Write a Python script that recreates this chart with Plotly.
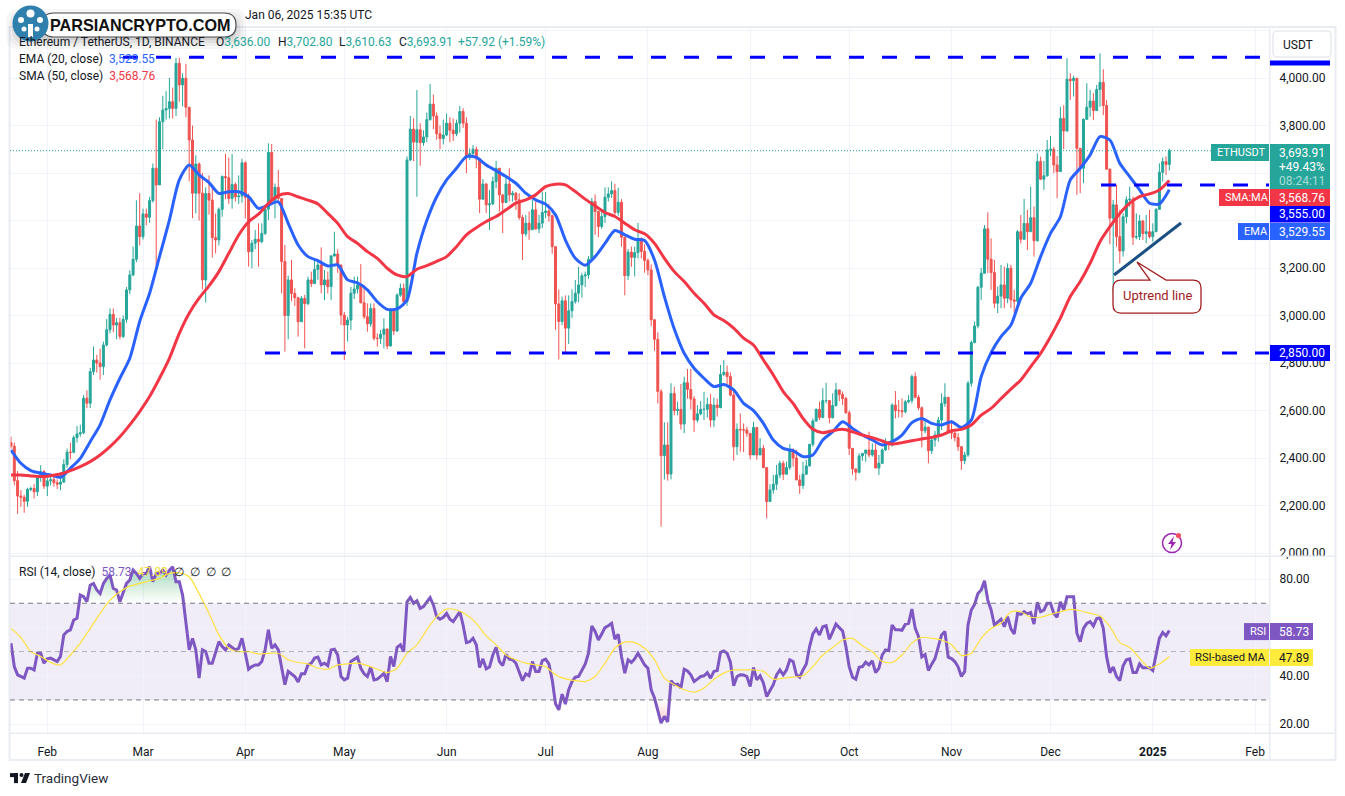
import pandas as pd
import plotly.graph_objects as go

W = 1345
H = 796
Y_FIX = 1.0052  # the photographed page comes out slightly squashed in height

first_open = 2465
closes = [
    2450,2305,2240,2235,2218,2268,2272,2258,2318,2343,2282,
    2304,2309,2296,2290,2299,2373,2425,2424,2486,2502,2507,2652,2631,2764,2813,2800,2785,2876,2940,3005,2960,2970,2912,2984,3108,3171,3237,3377,3332,
    3428,3414,3484,3620,3550,3816,3865,3872,3900,3872,4062,3971,3999,3877,3739,3515,3638,3515,3150,3514,3486,3328,3318,3447,3585,3580,3493,3552,3500,3503,3643,
    3498,3269,3304,3321,3311,3346,3448,3687,3486,3540,3493,3227,3000,3150,3093,3075,2974,3072,3050,3150,3135,3194,3213,3129,3150,3122,3251,3259,3213,3002,
    2960,2981,3094,3112,3129,3054,2995,2965,3030,2904,2904,2921,2943,2872,3023,2935,3086,3115,3058,3655,3785,3730,3782,3728,3752,3825,3890,3840,3765,3745,3760,
    3810,3780,3765,3810,3859,3810,3667,3682,3700,3660,3490,3554,3466,3470,3564,3620,3508,3476,3554,3508,3515,3487,3413,3344,3389,3361,3445,3365,3389,3434,
    3440,3420,3290,3049,2975,3062,2947,3020,3059,3094,3129,3167,3171,3237,3480,3438,3375,3417,3498,3512,3526,3434,3477,3330,3168,3267,3245,3265,3318,3270,3232,
    3192,2982,2900,2680,2410,2455,2333,2672,2600,2605,2543,2717,2689,2649,2560,2586,2605,2605,2626,2560,2623,2612,2752,2761,2743,2665,2448,2521,2519,2518,2504,
    2413,2529,2413,2441,2360,2217,2266,2290,2329,2378,2332,2360,2434,2400,2308,2284,2332,2367,2458,2556,2605,2571,2642,2642,2570,2621,2687,2668,2651,2591,
    2441,2354,2340,2409,2420,2434,2413,2434,2358,2378,2434,2469,2455,2623,2600,2600,2595,2637,2642,2743,2656,2612,2515,2530,2431,2476,2497,2560,2630,2656,2511,
    2505,2486,2448,2389,2413,2715,2886,2956,3119,3178,3365,3237,3181,3052,3082,3129,3073,3199,3066,3060,3353,3321,3388,3353,3412,3315,3648,3574,3588,3697,
    3700,3634,3606,3830,3777,3995,3989,3999,3704,3620,3826,3877,3903,3863,3952,3982,3884,3616,3410,3466,3332,3272,3416,3487,3490,3330,3332,3398,3345,3353,3332,
    3353,3447,3603,3648,3636,3693.91,
]
highs = [
    2490,2465,2345,2265,2245,2275,2280,2290,2325,2370,2350,
    2320,2320,2325,2310,2340,2395,2440,2465,2495,2535,2540,2665,2685,2780,2870,2835,2860,2890,2985,3030,3030,2990,2990,3000,3120,3190,3290,3485,3515,
    3450,3450,3500,3640,3825,3835,3925,3945,4000,3960,4085,4085,4020,4060,3850,3800,3675,3645,3600,3540,3590,3540,3430,3455,3590,3680,3665,3680,3560,3590,3660,
    3650,3513,3318,3360,3388,3388,3465,3725,3722,3556,3613,3493,3297,3168,3234,3115,3079,3082,3087,3164,3185,3234,3227,3287,3192,3185,3255,3353,3279,3213,
    3015,2995,3121,3164,3164,3217,3129,3051,3051,3051,2925,2939,2988,2946,3030,3030,3094,3135,3135,3670,3840,3830,3949,3810,3780,3855,3975,3930,3855,3800,3825,
    3850,3835,3830,3825,3882,3873,3835,3704,3718,3711,3662,3575,3557,3529,3585,3651,3599,3508,3585,3620,3525,3520,3515,3424,3424,3438,3487,3480,3424,3522,
    3520,3470,3425,3290,3110,3080,3085,3085,3110,3150,3205,3180,3185,3250,3495,3510,3440,3435,3540,3540,3565,3555,3538,3490,3330,3280,3290,3290,3390,3330,3300,
    3240,3215,2985,2929,2690,2550,2550,2715,2700,2637,2712,2743,2775,2775,2660,2623,2640,2679,2655,2670,2655,2650,2792,2813,2790,2760,2690,2546,2588,2546,2532,
    2504,2553,2530,2483,2455,2360,2290,2329,2371,2389,2389,2385,2459,2441,2434,2329,2385,2392,2455,2567,2609,2637,2694,2717,2637,2673,2717,2687,2680,2658,
    2600,2441,2357,2420,2420,2434,2511,2462,2462,2413,2441,2483,2469,2630,2682,2644,2651,2644,2665,2752,2761,2665,2617,2567,2532,2490,2515,2574,2672,2715,2651,
    2560,2515,2504,2448,2427,2725,2895,2975,3125,3200,3381,3435,3325,3234,3122,3213,3206,3220,3213,3108,3360,3423,3491,3445,3543,3459,3683,3669,3651,3739,
    3756,3711,3672,3879,3885,4083,4020,4010,3999,3704,3830,3978,3950,3936,3971,4104,4037,3907,3620,3487,3550,3445,3430,3501,3543,3501,3430,3423,3402,3423,3445,
    3388,3452,3641,3666,3670,3702.80,
]
lows = [
    2440,2285,2165,2195,2170,2195,2260,2230,2240,2300,2270,
    2240,2285,2280,2270,2265,2295,2360,2395,2420,2465,2490,2500,2610,2610,2750,2760,2730,2750,2870,2925,2930,2900,2900,2905,2970,3090,3165,3225,3295,
    3320,3380,3390,3475,3192,3550,3700,3825,3830,3830,3840,3900,3880,3835,3565,3410,3430,3400,3110,3055,3425,3244,3262,3295,3416,3490,3470,3450,3480,3470,3475,
    3409,3206,3199,3279,3206,3304,3339,3402,3472,3409,3470,3093,2848,2900,3060,3040,2911,2974,2862,3044,3120,3133,3150,3093,3065,3093,3065,3248,3180,2960,
    2813,2890,2939,3070,3093,3051,2985,2932,2953,2895,2869,2880,2862,2858,2869,2918,2932,3079,3040,3041,3650,3650,3500,3630,3715,3730,3820,3785,3740,3700,3720,
    3755,3730,3735,3755,3770,3790,3599,3655,3662,3620,3431,3487,3431,3360,3466,3536,3438,3347,3473,3480,3480,3445,3403,3234,3333,3319,3361,3361,3347,3368,
    3410,3395,3260,2940,2815,2960,2840,2880,2990,3050,3055,3075,3120,3155,3230,3340,3330,3365,3390,3480,3495,3420,3420,3290,3085,3150,3205,3165,3240,3240,3180,
    3170,2955,2852,2630,2111,2310,2305,2310,2580,2580,2520,2505,2650,2605,2510,2550,2580,2560,2570,2530,2530,2575,2610,2745,2700,2660,2389,2413,2427,2425,2490,
    2395,2413,2393,2413,2357,2146,2217,2250,2266,2315,2308,2350,2350,2364,2308,2249,2270,2329,2364,2448,2553,2560,2567,2630,2546,2567,2616,2640,2623,2586,
    2413,2330,2305,2336,2389,2385,2403,2406,2357,2329,2375,2430,2434,2448,2567,2571,2571,2588,2630,2630,2651,2602,2445,2504,2378,2417,2448,2469,2518,2616,2504,
    2480,2470,2430,2350,2375,2405,2700,2883,2946,3066,3178,3178,3108,3031,3010,3031,3031,3052,3031,3012,3050,3304,3318,3276,3353,3248,3311,3571,3529,3585,
    3672,3599,3494,3606,3700,3774,3908,3922,3508,3515,3557,3823,3837,3823,3865,3879,3844,3620,3300,3101,3290,3220,3248,3388,3458,3297,3321,3318,3318,3304,3325,
    3311,3353,3447,3564,3592,3610.63,
]

# moving averages, read every third day
ema_values = [
    2434,2378,2347,2336,2329,2319,2357,2399,2469,2540,2645,2736,2820,2975,3094,3248,3402,3571,3634,3592,
    3560,3514,3521,3521,3500,3451,3465,3479,3388,3297,3248,3231,3209,3213,3150,3138,3108,3058,3026,3028,
    3065,3262,3400,3500,3571,3620,3669,3666,3634,3610,3585,3557,3515,3487,3469,3424,3318,3241,3212,3248,
    3304,3358,3340,3321,3316,3234,3080,2943,2841,2778,2736,2701,2710,2687,2630,2600,2546,2476,2441,2431,
    2406,2413,2476,2511,2553,2525,2497,2476,2455,2469,2497,2549,2567,2546,2539,2553,2529,2560,2743,2844,
    2911,2960,3073,3136,3248,3346,3416,3571,3620,3676,3753,3739,3641,3585,3529,3473,3470,3529.55,
]
sma_values = [
    2329,2329,2325,2322,2326,2333,2347,2364,2385,2413,2448,2490,2540,2596,2659,2736,2820,2925,3010,3073,
    3125,3185,3262,3339,3395,3427,3472,3505,3514,3500,3486,3470,3430,3388,3332,3304,3269,3241,3199,3171,
    3164,3195,3210,3228,3248,3290,3340,3370,3396,3417,3445,3473,3487,3508,3543,3553,3550,3522,3490,3462,
    3434,3417,3389,3361,3344,3304,3241,3185,3143,3094,3052,3003,2979,2947,2905,2876,2813,2750,2680,2630,
    2567,2521,2507,2515,2521,2511,2497,2486,2472,2459,2465,2473,2480,2487,2497,2515,2521,2539,2581,2609,
    2650,2690,2729,2785,2841,2911,2989,3080,3143,3220,3311,3374,3430,3473,3501,3512,3529,3568.76,
]

rsi_values = [
    53.5,43.8,40.4,39.7,39,43.1,43.1,42.4,49.3,49.3,
    45.2,47,47.3,46.6,45.9,48,56.9,58.3,59,63.1,
    63.8,73.4,72.7,70.6,77.5,78.2,75.5,74,78.2,80.3,
    81.7,76.1,75.5,70.6,74.8,78.2,79.6,83.7,82.3,80.3,
    82.3,82.3,85.1,78.9,82.3,82.3,83.7,81.7,83.7,85.1,
    78.9,78.9,73.4,61.7,50.7,55.5,50.7,39,50.7,50,
    45.2,45.2,49.3,54.1,52.1,50.7,52.8,51.8,50.7,51.4,55.5,
    49.3,42.7,43.8,44.5,44.5,45.9,50.7,59,51.4,52.8,
    50.7,43.1,36.3,41.8,40.8,39.7,37.4,40.8,40.8,44.5,
    45.2,47.3,47.7,44.5,45.2,44.2,50.7,51,48.6,39.7,
    38.3,39,45.9,46.9,47.7,43.1,40.8,39.7,43.6,38.3,
    38.6,39.7,41,37.6,48,43.8,51.8,52.8,
    50,70.6,72.4,70,71,67.9,68.6,70.6,72.3,69.3,64.5,63.4,64.2,
    65.8,63.4,62.4,64.5,66.5,61,53.7,54.1,55.5,52.8,43.4,47,42.9,43.6,48.6,51.8,45.9,44.2,48.9,46.9,
    46.6,45.2,41.8,38,40.8,40,45.9,41.8,41.8,46.3,46.9,44.9,38.3,28.4,25.9,32.4,28.3,34.2,37.6,39.4,
    39.7,42.4,44.8,49.3,60.6,58.3,54.8,57.3,59.9,60.7,61.7,55.1,57.2,48,41.1,46.6,45.5,47,49.3,46.9,
    44.5,43.1,34.2,30.8,25.3,20.4,23.2,20.9,38,36.3,36.5,34.9,42.7,42,40.4,37.6,38.6,39.7,40,41.3,
    39,41.8,42.2,49.7,50.3,49.3,45.6,35.9,39.7,40.4,40.3,39.7,35.6,43.4,38.3,40,37,31.4,33.9,36.3,
    40.4,42.4,40.4,42.4,46.6,45.9,40.4,39.4,42.4,44.9,52.1,57.3,59.4,56.9,60.3,60.7,55.1,58.3,61.4,59.9,
    58.5,52.1,43.8,39.4,38.6,43.5,43.8,45.6,44.5,46.2,41.3,43.1,48.6,50.7,50.4,61,59,59,58.8,61.3,
    61.7,67.6,59.7,56.3,47.8,48.8,42.2,44.8,47.1,52.1,56.9,58.3,47.7,47.1,45.9,43.7,39.7,41.8,61,67.2,
    69.5,74,75.5,79.3,71.3,67.2,61,62.2,63.4,60.3,64.5,59.4,57.3,65.8,65.4,66.5,65.6,66.2,61.4,70.4,
    66.5,67.2,70,70,65.8,64.2,70.6,67.2,72.7,72.7,72.7,57.6,54.1,59.6,61.7,62.4,60.6,63.7,64,59.6,
    47.9,41.3,43.6,39.7,38,44.1,46.6,47,41.3,41.3,44.9,43.3,43.3,43.3,42.2,48.6,55.5,57.9,56.5,58.73,
]
rsi_ma_values = [
    59.6,55.9,50,48,45.5,44.5,48.6,53.5,59.6,65.8,71.3,74.8,77.1,78.2,79.3,80.3,82.3,82.6,81,74,
    65.8,56.9,51.4,50,50,49,49.3,49.3,46.6,45.5,44.9,43.1,42.7,44.5,44.9,45.2,44.2,42.7,41.3,43.1,
    49.3,52.8,59,64.5,67.6,67.2,65.2,61.7,56.5,52.8,48.6,46.6,45.2,44.5,43.8,40.4,38.7,38,37.6,39.7,
    45.2,51.4,53.9,53.7,51.4,46.6,39,36.3,34.2,33.2,34.9,38.6,41.1,42.4,42.4,42.4,41.8,38.6,39,39.4,
    40,43.8,48.6,51.7,54.8,55.5,52.4,50,45.9,45.5,48.6,53.5,55.9,55.5,54.8,52.8,48.4,49.3,55.5,59.6,
    61.7,66.5,66.5,64.2,64.2,65.4,66.5,67.5,66.9,65.8,64.7,60.3,53.7,51.8,47.3,43.1,44.9,47.89,
]

month_ticks = ["2024-02-01","2024-03-01","2024-04-01","2024-05-01","2024-06-01","2024-07-01","2024-08-01",
               "2024-09-01","2024-10-01","2024-11-01","2024-12-01","2025-01-01","2025-02-01"]
month_labels = ["Feb","Mar","Apr","May","Jun","Jul","Aug","Sep","Oct","Nov","Dec","<b>2025</b>","Feb"]
price_ticks = [2000,2200,2400,2600,2800,3000,3200,3400,3600,3800,4000,4200]
price_hidden = [3400,3600,4200]  # sit under the tags on the scale
price_labels = ["" if v in price_hidden else f"{v:,.2f}" for v in price_ticks]
rsi_ticks = [20,40,60,80]
rsi_labels = ["20.00","40.00","","80.00"]

resistance_top = 4087
resistance_mid = 3550
support = 2842
last_price = 3693.91

GREEN = "#26a69a"
RED = "#ef5350"
EMA_BLUE = "#2962ff"
SMA_RED = "#f23645"
PURPLE = "#7e57c2"
YELLOW = "#ffeb3b"
LEVEL = "#0000ff"
FRAME = "#e9ecf2"
INK = "#131722"
FONT = "Roboto"

dates = pd.date_range("2024-01-21", periods=len(closes), freq="D")
opens = [first_open] + closes[:-1]
ma_dates = pd.date_range("2024-01-21", periods=len(ema_values), freq="3D")
rsi_dates = pd.date_range("2024-01-21", periods=len(rsi_values), freq="D")


def xp(px):
    return px / W


def yp(py):
    return 1 - py * Y_FIX / H


def price_at(py):
    return 4000 - (py - 78) * 200 / 47.5


def rsi_at(py):
    return 80 - (py - 579) * 60 / 145


def date_at(px):
    return pd.Timestamp("2024-01-21") + pd.Timedelta(days=(px - 11) / 3.3)


def round_path(x0, y0, x1, y1, r):
    pts = [f"M{xp(x0 + r)},{yp(y0)}", f"L{xp(x1 - r)},{yp(y0)}", f"Q{xp(x1)},{yp(y0)} {xp(x1)},{yp(y0 + r)}",
           f"L{xp(x1)},{yp(y1 - r)}", f"Q{xp(x1)},{yp(y1)} {xp(x1 - r)},{yp(y1)}",
           f"L{xp(x0 + r)},{yp(y1)}", f"Q{xp(x0)},{yp(y1)} {xp(x0)},{yp(y1 - r)}",
           f"L{xp(x0)},{yp(y0 + r)}", f"Q{xp(x0)},{yp(y0)} {xp(x0 + r)},{yp(y0)}", "Z"]
    return " ".join(pts)


def poly_path(points):
    return "M" + " L".join(f"{xp(a)},{yp(b)}" for a, b in points) + " Z"


shapes = []
annotations = []


def paper_path(path, fill="rgba(0,0,0,0)", line=None, width=0):
    shapes.append(dict(type="path", path=path, xref="paper", yref="paper", fillcolor=fill,
                       line=dict(color=line or "rgba(0,0,0,0)", width=width), layer="above"))


def box(x0, y0, x1, y1, fill):
    shapes.append(dict(type="rect", xref="paper", yref="paper", x0=xp(x0), x1=xp(x1), y0=yp(y0), y1=yp(y1),
                       fillcolor=fill, line=dict(width=0), layer="above"))


def disc(cx, cy, r, fill, line=None, width=0):
    shapes.append(dict(type="circle", xref="paper", yref="paper", x0=xp(cx - r), x1=xp(cx + r), y0=yp(cy + r), y1=yp(cy - r),
                       fillcolor=fill, line=dict(color=line or "rgba(0,0,0,0)", width=width), layer="above"))


def label(x, y, text, color=INK, size=12, anchor="left", font=FONT):
    annotations.append(dict(x=xp(x), y=yp(y), xref="paper", yref="paper", text=text, showarrow=False,
                            xanchor=anchor, yanchor="middle", align="left", borderpad=0,
                            font=dict(color=color, size=size, family=font)))


def span(text, color):
    return f'<span style="color:{color}">{text}</span>'


# frame and panel lines
box(9, 26, 1336, 28, FRAME)
box(9, 759, 1336, 761, FRAME)
box(8.5, 26, 10.5, 761, FRAME)
box(1334.5, 26, 1336.5, 761, FRAME)
box(9, 555.5, 1336, 557, FRAME)
box(9, 732.5, 1336, 734, FRAME)
box(1269, 26, 1270.5, 761, FRAME)

# levels
shapes.append(dict(type="rect", xref="paper", yref="y2", x0=xp(10), x1=xp(1269), y0=30, y1=70,
                   fillcolor="rgba(126,87,194,0.11)", line=dict(width=0), layer="below"))
for val, op in [(70, 1), (50, 0.55), (30, 1)]:
    shapes.append(dict(type="line", xref="paper", yref="y2", x0=xp(10), x1=xp(1269), y0=val, y1=val,
                       line=dict(color="#787b86", width=1, dash="5px,4px"), opacity=op, layer="above"))
shapes.append(dict(type="line", xref="paper", yref="y", x0=xp(10), x1=xp(1269), y0=last_price, y1=last_price,
                   line=dict(color=GREEN, width=1, dash="1px,2px"), layer="above"))
for start_px, val in [(123, resistance_top), (1101, resistance_mid), (265, support)]:
    shapes.append(dict(type="line", xref="x", yref="y", x0=date_at(start_px), x1=date_at(1269), y0=val, y1=val,
                       line=dict(color=LEVEL, width=3, dash="15px,18px"), layer="above"))

# uptrend line and its callout
shapes.append(dict(type="line", xref="x", yref="y", x0=date_at(1114), x1=date_at(1181),
                   y0=price_at(275), y1=price_at(223), line=dict(color="#1c4f82", width=3), layer="above"))
paper_path(" ".join([
    f"M{xp(1121)},{yp(280)}", f"L{xp(1150)},{yp(280)}", f"L{xp(1137)},{yp(262)}", f"L{xp(1166)},{yp(280)}",
    f"L{xp(1193)},{yp(280)}", f"Q{xp(1201)},{yp(280)} {xp(1201)},{yp(288)}", f"L{xp(1201)},{yp(305)}",
    f"Q{xp(1201)},{yp(313)} {xp(1193)},{yp(313)}", f"L{xp(1121)},{yp(313)}", f"Q{xp(1113)},{yp(313)} {xp(1113)},{yp(305)}",
    f"L{xp(1113)},{yp(288)}", f"Q{xp(1113)},{yp(280)} {xp(1121)},{yp(280)}", "Z"]),
    fill="#ffffff", line="#a11d1d", width=1.3)
label(1157, 295, "Uptrend line", color="#a11d1d", size=13, anchor="center")

# right scale tags
paper_path(round_path(1273, 31, 1331, 57, 4), fill="#ffffff", line="#e8eaf0", width=1.5)
label(1282, 44.5, "USDT", size=12)
box(1270, 60.5, 1330, 65.5, LEVEL)
box(1211, 144, 1269, 161, GREEN)
box(1270, 144, 1330, 189, GREEN)
label(1216, 152.5, "ETHUSDT", color="#ffffff", size=11)
label(1278, 152.5, "3,693.91", color="#ffffff")
label(1278, 166.5, "+49.43%", color="#ffffff")
label(1278, 180.5, "08:24:11", color="#a8ddd7")
box(1219, 189, 1269, 206, SMA_RED)
box(1270, 189, 1330, 206, SMA_RED)
label(1224, 197.5, "SMA:MA", color="#ffffff", size=11)
label(1278, 197.5, "3,568.76", color="#ffffff")
box(1270, 206, 1330, 222.5, LEVEL)
label(1278, 214, "3,555.00", color="#ffffff")
box(1238, 223, 1269, 240, EMA_BLUE)
box(1270, 223, 1330, 240, EMA_BLUE)
label(1243, 231.5, "EMA", color="#ffffff", size=11)
label(1278, 231.5, "3,529.55", color="#ffffff")
box(1270, 345, 1330, 361, LEVEL)
label(1278, 353, "2,850.00", color="#ffffff")
box(1244, 623, 1269, 640, PURPLE)
box(1270, 623, 1313, 640, PURPLE)
label(1249, 631.5, "RSI", color="#ffffff", size=11)
label(1278, 631.5, "58.73", color="#ffffff")
box(1190, 649, 1269, 666, YELLOW)
box(1270, 649, 1313, 666, YELLOW)
label(1194, 657.5, "RSI-based MA", color=INK, size=11.2)
label(1278, 657.5, "47.89", color=INK)

# legends
label(18, 42, "Ethereum / TetherUS, 1D, BINANCE")
label(215, 42, "O" + span("3,636.00", GREEN))
label(277, 42, "H" + span("3,702.80", GREEN))
label(338, 42, "L" + span("3,610.63", GREEN))
label(398, 42, "C" + span("3,693.91", GREEN))
label(457, 42, span("+57.92 (+1.59%)", GREEN))
label(18, 59, "EMA (20, close) &nbsp;" + span("3,529.55", EMA_BLUE))
label(18, 76, "SMA (50, close) &nbsp;" + span("3,568.76", SMA_RED))
label(18, 572, "RSI (14, close) &nbsp;" + span("58.73", PURPLE) + " &nbsp;" + span("47.89", "#f0dc3c") + " &nbsp;∅ &nbsp;∅ &nbsp;∅ &nbsp;∅")
label(244, 15, "Jan 06, 2025 15:35 UTC", size=12)

# watermark
for grow, alpha in [(12, 0.04), (9, 0.05), (6, 0.07), (3, 0.09)]:
    paper_path(round_path(18 - grow, 17 - grow + 4, 236 + grow - 2, 37 + grow, 12), fill=f"rgba(60,60,60,{alpha})")
paper_path(round_path(42, 13, 236, 37, 12), fill="#ffffff", line="#4a4a4a", width=1.2)
disc(30.5, 23.5, 18, "#2f80ad")
box(28, 24, 33, 37, "#ffffff")
disc(30.5, 13.5, 4, "#ffffff")
disc(21, 20, 3, "#ffffff")
disc(40, 20, 3, "#ffffff")
disc(24, 29, 2.5, "#ffffff")
disc(37, 29, 2.5, "#ffffff")
label(49, 25, "<b>PARSIANCRYPTO.COM</b>", color="#111111", size=16.2, font="Liberation Sans")

# alert icon
disc(1172, 543, 9.5, "#ffffff", line="#9c27b0", width=1.5)
paper_path(poly_path([(1174, 536), (1168, 544), (1171.5, 544), (1170, 550), (1176, 542), (1172.5, 542)]), fill="#9c27b0")
disc(1178.5, 535.5, 2.6, "#f7525f")

# footer
box(10, 773, 18, 777, "#131722")
box(14, 773, 18, 783, "#131722")
disc(21.5, 775, 2, "#131722")
paper_path(poly_path([(21, 783), (25, 773), (30, 773), (26, 783)]), fill="#131722")
label(33, 778, "TradingView", color="#2a2e39", size=13.5)

fig = go.Figure()

fig.add_trace(go.Candlestick(
    x=dates, open=opens, high=highs, low=lows, close=closes, xaxis="x", yaxis="y",
    increasing=dict(line=dict(color=GREEN, width=1), fillcolor=GREEN),
    decreasing=dict(line=dict(color=RED, width=1), fillcolor=RED),
    whiskerwidth=0, showlegend=False))
fig.add_trace(go.Scatter(x=ma_dates, y=ema_values, mode="lines", line=dict(color=EMA_BLUE, width=3, shape="spline", smoothing=0.7), yaxis="y", name="EMA"))
fig.add_trace(go.Scatter(x=ma_dates, y=sma_values, mode="lines", line=dict(color=SMA_RED, width=3, shape="spline", smoothing=0.7), yaxis="y", name="SMA"))

# overbought / oversold shading under the RSI line
over = [max(v, 70) for v in rsi_values]
under = [min(v, 30) for v in rsi_values]
fig.add_trace(go.Scatter(x=rsi_dates, y=[70] * len(rsi_values), mode="lines", line=dict(width=0), yaxis="y2", showlegend=False))
fig.add_trace(go.Scatter(x=rsi_dates, y=over, mode="lines", line=dict(width=0), yaxis="y2", fill="tonexty", showlegend=False,
                         fillgradient=dict(type="vertical", colorscale=[[0, "rgba(76,175,80,0)"], [1, "rgba(38,166,120,0.45)"]])))
fig.add_trace(go.Scatter(x=rsi_dates, y=[30] * len(rsi_values), mode="lines", line=dict(width=0), yaxis="y2", showlegend=False))
fig.add_trace(go.Scatter(x=rsi_dates, y=under, mode="lines", line=dict(width=0), yaxis="y2", fill="tonexty", showlegend=False,
                         fillgradient=dict(type="vertical", colorscale=[[0, "rgba(255,82,82,0.3)"], [1, "rgba(255,82,82,0)"]])))
fig.add_trace(go.Scatter(x=rsi_dates, y=rsi_values, mode="lines", line=dict(color=PURPLE, width=3), yaxis="y2", name="RSI"))
fig.add_trace(go.Scatter(x=ma_dates, y=rsi_ma_values, mode="lines", line=dict(color="#fde23c", width=1.2, shape="spline", smoothing=0.7), yaxis="y2", name="RSI MA"))

fig.update_layout(
    width=W, height=H, margin=dict(l=0, r=0, t=0, b=0), autosize=False,
    paper_bgcolor="#ffffff", plot_bgcolor="#ffffff", showlegend=False, hovermode=False,
    font=dict(family=FONT, size=12, color=INK), boxgap=0.15,
    xaxis=dict(domain=[xp(10), xp(1269)], range=[date_at(10), date_at(1269)], anchor="y2", type="date",
               rangeslider=dict(visible=False), tickmode="array", tickvals=month_ticks, ticktext=month_labels,
               showgrid=True, gridcolor="#f0f3fa", gridwidth=1, zeroline=False, showline=False,
               ticks="outside", ticklen=7, tickcolor="rgba(0,0,0,0)", tickfont=dict(size=12, color=INK)),
    yaxis=dict(domain=[yp(556), yp(27)], range=[price_at(556), price_at(27)], side="right", anchor="x",
               tickmode="array", tickvals=price_ticks, ticktext=price_labels, showgrid=True, gridcolor="#f0f3fa",
               zeroline=False, showline=False, ticks="outside", ticklen=7, tickcolor="rgba(0,0,0,0)",
               tickfont=dict(size=12, color=INK)),
    yaxis2=dict(domain=[yp(733), yp(557)], range=[rsi_at(733), rsi_at(557)], side="right", anchor="x",
                tickmode="array", tickvals=rsi_ticks, ticktext=rsi_labels, showgrid=True,
                gridcolor="#f0f3fa", zeroline=False, showline=False, ticks="outside", ticklen=7,
                tickcolor="rgba(0,0,0,0)", tickfont=dict(size=12, color=INK)),
    shapes=shapes,
    annotations=annotations,
)

page_fix = """
document.body.style.margin = '0';
document.documentElement.style.overflow = 'hidden';
document.body.style.overflow = 'hidden';
"""
fig.write_html("out.html", config={"displayModeBar": False}, post_script=page_fix)
